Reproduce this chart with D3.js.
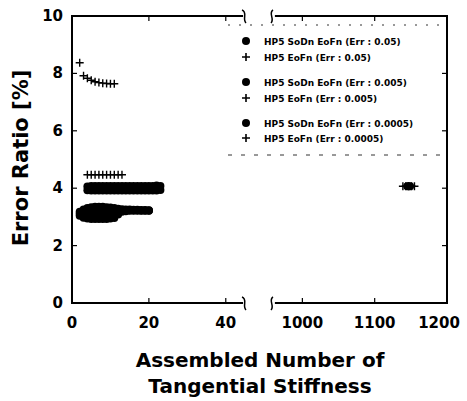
<!DOCTYPE html>
<html>
<head>
<meta charset="utf-8">
<script src="https://cdn.jsdelivr.net/npm/d3@7"></script>
<style>
  body { margin: 0; background: #fff; }
  svg text { font-family: "DejaVu Sans", sans-serif; font-weight: bold; fill: #000; }
</style>
</head>
<body>
<svg id="chart" width="467" height="401"></svg>
<script>
// data
var yTicks = [0, 2, 4, 6, 8, 10];
var xTicksLeft = [0, 20, 40];
var xTicksRight = [1000, 1100, 1200];

// HP5 EoFn (Err : 0.05)
var eofn05X = [2, 3, 4, 5, 6, 7, 8, 9, 10, 11];
var eofn05Y = [8.37, 7.92, 7.83, 7.76, 7.71, 7.68, 7.66, 7.65, 7.64, 7.64];
// HP5 EoFn (Err : 0.005)
var eofn005X = [4, 5, 6, 7, 8, 9, 10, 11, 12, 13];
var eofn005Y = [4.47, 4.47, 4.47, 4.47, 4.47, 4.47, 4.47, 4.47, 4.47, 4.47];
// HP5 EoFn (Err : 0.0005)
var eofn0005X = [1139, 1143, 1147, 1151, 1155];
var eofn0005Y = [4.07, 4.07, 4.07, 4.07, 4.07];

// HP5 SoDn EoFn (Err : 0.05) - several results per x
var soDn05X   = [2, 3, 4, 5, 6, 7, 8, 9, 10, 11, 12, 13, 14, 15, 16, 17, 18, 19, 20];
var soDn05Lo  = [3.04, 2.97, 2.94, 2.93, 2.93, 2.93, 2.93, 2.93, 2.94, 2.96, 3.08, 3.18, 3.20, 3.21, 3.21, 3.21, 3.21, 3.21, 3.21];
var soDn05Mid = [3.11, 3.12, 3.13, 3.14, 3.14, 3.14, 3.14, 3.14, 3.14, 3.14, 3.18, 3.22, 3.23, 3.23, 3.23, 3.23, 3.22, 3.22, 3.22];
var soDn05Hi  = [3.18, 3.26, 3.31, 3.34, 3.35, 3.35, 3.35, 3.34, 3.33, 3.31, 3.28, 3.27, 3.26, 3.26, 3.25, 3.25, 3.24, 3.24, 3.23];
// HP5 SoDn EoFn (Err : 0.005)
var soDn005X  = [4, 5, 6, 7, 8, 9, 10, 11, 12, 13, 14, 15, 16, 17, 18, 19, 20, 21, 22, 23];
var soDn005Lo = [3.93, 3.92, 3.92, 3.92, 3.92, 3.92, 3.92, 3.92, 3.92, 3.92, 3.92, 3.92, 3.92, 3.92, 3.92, 3.92, 3.92, 3.92, 3.92, 3.94];
var soDn005Hi = [4.06, 4.08, 4.08, 4.08, 4.08, 4.08, 4.08, 4.08, 4.08, 4.08, 4.08, 4.08, 4.08, 4.08, 4.08, 4.08, 4.08, 4.08, 4.09, 4.08];
// HP5 SoDn EoFn (Err : 0.0005)
var soDn0005X = [1145, 1147, 1149];
var soDn0005Y = [4.07, 4.07, 4.07];

var legendLabels = [
  "HP5 SoDn EoFn (Err : 0.05)", "HP5 EoFn (Err : 0.05)",
  "HP5 SoDn EoFn (Err : 0.005)", "HP5 EoFn (Err : 0.005)",
  "HP5 SoDn EoFn (Err : 0.0005)", "HP5 EoFn (Err : 0.0005)"
];

var svg = d3.select("#chart");
var plotTop = 16, plotBottom = 303;
var y = d3.scaleLinear().domain([0, 10]).range([plotBottom, plotTop]);
var xL = d3.scaleLinear().domain([0, 45]).range([72, 245]);
var xR = d3.scaleLinear().domain([958, 1200]).range([272, 447]);
function xAny(v) { return v > 500 ? xR(v) : xL(v); }

var axes = svg.append("g").attr("stroke", "#000").attr("fill", "none");
// frame lines (broken x axis)
axes.append("line").attr("x1", 72).attr("x2", 72).attr("y1", plotTop).attr("y2", plotBottom).attr("stroke-width", 2);
axes.append("line").attr("x1", 447).attr("x2", 447).attr("y1", plotTop).attr("y2", plotBottom).attr("stroke-width", 2);
[plotTop, plotBottom].forEach(function (yy) {
  axes.append("line").attr("x1", 71).attr("x2", xL(44.5)).attr("y1", yy).attr("y2", yy).attr("stroke-width", 2);
  axes.append("line").attr("x1", xR(962)).attr("x2", 448).attr("y1", yy).attr("y2", yy).attr("stroke-width", 2);
  // break marks
  var a = xL(45), b = xR(958);
  axes.append("path").attr("stroke-width", 1.5)
    .attr("d", "M" + (a - 3) + "," + (yy - 6) + " C" + (a + 3) + "," + (yy - 4) + " " + (a - 3) + "," + (yy + 3) + " " + (a + 1) + "," + (yy + 7));
  axes.append("path").attr("stroke-width", 1.5)
    .attr("d", "M" + (b + 1) + "," + (yy - 6) + " C" + (b - 4) + "," + (yy - 3) + " " + (b + 3) + "," + (yy + 3) + " " + (b - 1) + "," + (yy + 7));
});

// ticks (inward)
yTicks.forEach(function (t) {
  axes.append("line").attr("x1", 72).attr("x2", 77).attr("y1", y(t)).attr("y2", y(t)).attr("stroke-width", 1.2);
  axes.append("line").attr("x1", 447).attr("x2", 442).attr("y1", y(t)).attr("y2", y(t)).attr("stroke-width", 1.2);
});
xTicksLeft.concat(xTicksRight).forEach(function (t) {
  var xx = xAny(t);
  axes.append("line").attr("x1", xx).attr("x2", xx).attr("y1", plotBottom).attr("y2", plotBottom - 5).attr("stroke-width", 1.2);
  axes.append("line").attr("x1", xx).attr("x2", xx).attr("y1", plotTop).attr("y2", plotTop + 5).attr("stroke-width", 1.2);
});

// tick labels
svg.append("g").selectAll("text").data(yTicks).join("text")
  .attr("x", 63).attr("y", function (d) { return y(d) + 5; })
  .attr("text-anchor", "end").style("font-size", "15px").text(function (d) { return d; });
svg.append("g").selectAll("text").data(xTicksLeft.concat(xTicksRight)).join("text")
  .attr("x", function (d) { return xAny(d) - (d === 1200 ? 8 : 0); }).attr("y", 328)
  .attr("text-anchor", "middle").style("font-size", "15px").text(function (d) { return d; });

// axis titles
svg.append("text").attr("transform", "translate(28,158) rotate(-90)")
  .attr("text-anchor", "middle").style("font-size", "21px").text("Error Ratio [%]");
svg.append("text").attr("x", 260).attr("y", 367).attr("text-anchor", "middle")
  .style("font-size", "20px").text("Assembled Number of");
svg.append("text").attr("x", 260).attr("y", 393).attr("text-anchor", "middle")
  .style("font-size", "20px").text("Tangential Stiffness");

// markers
function plus(g, cx, cy, s, w) {
  g.append("path").attr("d", "M" + (cx - s) + "," + cy + "H" + (cx + s) + "M" + cx + "," + (cy - s) + "V" + (cy + s))
    .attr("stroke", "#000").attr("stroke-width", w).attr("fill", "none");
}
var marks = svg.append("g");
function dots(xs, ys) {
  marks.append("g").selectAll("circle").data(xs).join("circle")
    .attr("cx", function (d) { return xAny(d); })
    .attr("cy", function (d, i) { return y(ys[i]); })
    .attr("r", 4).attr("fill", "#000");
}
dots(soDn05X, soDn05Lo); dots(soDn05X, soDn05Mid); dots(soDn05X, soDn05Hi);
dots(soDn005X, soDn005Lo); dots(soDn005X, soDn005Hi);
dots(soDn0005X, soDn0005Y);
[[eofn05X, eofn05Y], [eofn005X, eofn005Y], [eofn0005X, eofn0005Y]].forEach(function (s) {
  s[0].forEach(function (v, i) { plus(marks, xAny(v), y(s[1][i]), 4, 1.4); });
});

// legend
var lg = svg.append("g");
lg.append("line").attr("x1", 228).attr("x2", 442).attr("y1", 25).attr("y2", 25)
  .attr("stroke", "#333").attr("stroke-dasharray", "2,9");
lg.append("line").attr("x1", 228).attr("x2", 442).attr("y1", 155).attr("y2", 155)
  .attr("stroke", "#333").attr("stroke-dasharray", "4,9");
var rowY = [41, 57, 82, 98, 123, 138];
legendLabels.forEach(function (lab, i) {
  if (i % 2 === 0) {
    lg.append("circle").attr("cx", 246).attr("cy", rowY[i]).attr("r", 4).attr("fill", "#000");
  } else {
    plus(lg, 246, rowY[i], 4, 1.6);
  }
  lg.append("text").attr("x", 264).attr("y", rowY[i] + 3.5).style("font-size", "9px").text(lab);
});
</script>
</body>
</html>
